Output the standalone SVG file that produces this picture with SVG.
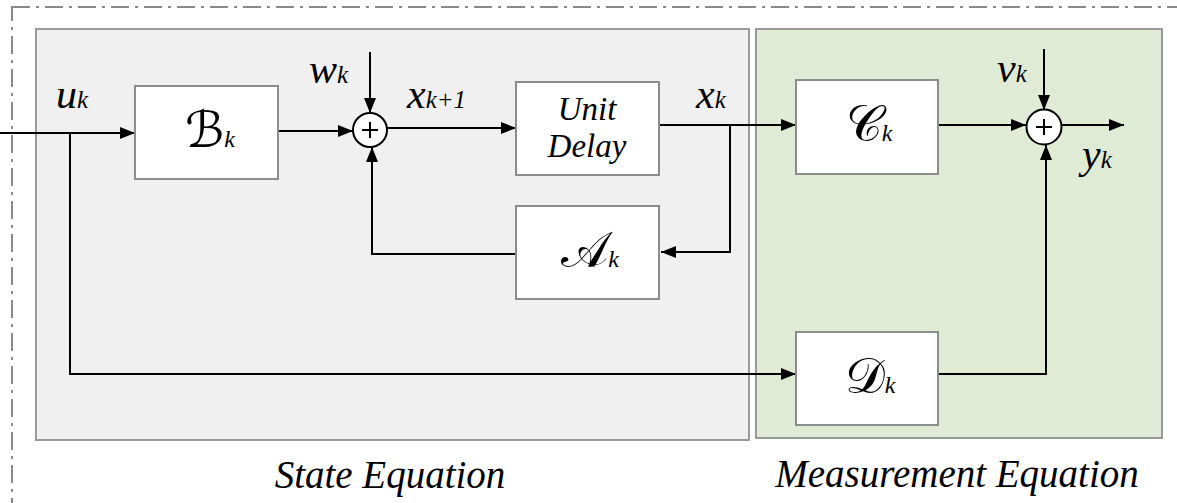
<svg xmlns="http://www.w3.org/2000/svg" width="1177" height="503" viewBox="0 0 1177 503">
  <style>
    .frame { fill: none; stroke: #8a8a8a; stroke-width: 2; stroke-dasharray: 18 6 3 6; }
    .panel { stroke: #9a9a9a; stroke-width: 2; }
    .block { fill: #ffffff; stroke: #8c8c8c; stroke-width: 2; }
    .wire { fill: none; stroke: #000; stroke-width: 2; }
    .sum { fill: #ffffff; stroke: #000; stroke-width: 2; }
    .serif { font-family: "Liberation Serif", "Times New Roman", Times, serif; }
    .math { font-family: "DejaVu Serif", "DejaVu Sans", serif; }
  </style>
  <defs>
    <marker id="arrow" markerUnits="userSpaceOnUse" markerWidth="16" markerHeight="12" refX="15" refY="6" orient="auto">
      <path d="M0,0 L15,6 L0,12 z" fill="#000"/>
    </marker>
  </defs>

  <!-- outer dash-dot frame -->
  <rect class="frame" x="12" y="7" width="1180" height="510"/>

  <!-- panels -->
  <g id="state-panel">
    <rect class="panel" x="36" y="29" width="713" height="411" fill="#f0f0f0"/>
    <text class="serif" x="390" y="488" font-size="39" font-style="italic" text-anchor="middle">State Equation</text>
  </g>
  <g id="measurement-panel">
    <rect class="panel" x="756" y="29" width="406" height="409" fill="#e0ebd6"/>
    <text class="serif" x="957" y="487" font-size="39" font-style="italic" text-anchor="middle">Measurement Equation</text>
  </g>

  <!-- connectors -->
  <g id="connectors">
    <path class="wire" d="M0,133 H135" marker-end="url(#arrow)"/>
    <path class="wire" d="M70,133 V374 H796" marker-end="url(#arrow)"/>
    <path class="wire" d="M278,131 H353" marker-end="url(#arrow)"/>
    <path class="wire" d="M370,52 V113" marker-end="url(#arrow)"/>
    <path class="wire" d="M387,128 H516" marker-end="url(#arrow)"/>
    <path class="wire" d="M659,125 H796" marker-end="url(#arrow)"/>
    <path class="wire" d="M730,125 V252 H661" marker-end="url(#arrow)"/>
    <path class="wire" d="M516,254 H372 V147" marker-end="url(#arrow)"/>
    <path class="wire" d="M938,125 H1026" marker-end="url(#arrow)"/>
    <path class="wire" d="M1044,49 V110" marker-end="url(#arrow)"/>
    <path class="wire" d="M1062,125 H1124" marker-end="url(#arrow)"/>
    <path class="wire" d="M938,374 H1046 V145" marker-end="url(#arrow)"/>
  </g>

  <!-- blocks -->
  <g id="block-B">
    <rect class="block" x="135" y="86" width="143" height="93"/>
    <text x="210" y="147" text-anchor="middle"><tspan class="math" font-size="50">ℬ</tspan><tspan class="serif" font-size="24" font-style="italic">k</tspan></text>
  </g>
  <g id="block-delay">
    <rect class="block" x="516" y="82" width="143" height="93"/>
    <text class="serif" x="587" y="120" font-size="33" font-style="italic" text-anchor="middle">Unit</text>
    <text class="serif" x="587" y="157" font-size="33" font-style="italic" text-anchor="middle">Delay</text>
  </g>
  <g id="block-A">
    <rect class="block" x="516" y="206" width="143" height="93"/>
    <text x="590" y="267" text-anchor="middle"><tspan class="math" font-size="50">𝒜</tspan><tspan class="serif" font-size="24" font-style="italic">k</tspan></text>
  </g>
  <g id="block-C">
    <rect class="block" x="796" y="80" width="142" height="94"/>
    <text x="869" y="141" text-anchor="middle"><tspan class="math" font-size="50">𝒞</tspan><tspan class="serif" font-size="24" font-style="italic">k</tspan></text>
  </g>
  <g id="block-D">
    <rect class="block" x="796" y="332" width="142" height="93"/>
    <text x="870" y="393" text-anchor="middle"><tspan class="math" font-size="50">𝒟</tspan><tspan class="serif" font-size="24" font-style="italic">k</tspan></text>
  </g>

  <!-- summing junctions -->
  <g id="sum-state">
    <circle class="sum" cx="370" cy="130" r="17"/>
    <path class="wire" d="M362,130 H378 M370,122 V138"/>
  </g>
  <g id="sum-measure">
    <circle class="sum" cx="1044" cy="127" r="17.5"/>
    <path class="wire" d="M1036,127 H1052 M1044,119 V135"/>
  </g>

  <!-- signal labels -->
  <g id="labels" class="serif" font-style="italic" font-size="42">
    <text x="56" y="108">u<tspan font-size="25">k</tspan></text>
    <text x="309" y="83">w<tspan font-size="25">k</tspan></text>
    <text x="407" y="108">x<tspan font-size="25">k+1</tspan></text>
    <text x="696" y="108">x<tspan font-size="25">k</tspan></text>
    <text x="997" y="82">v<tspan font-size="25">k</tspan></text>
    <text x="1082" y="168">y<tspan font-size="25">k</tspan></text>
  </g>
</svg>
